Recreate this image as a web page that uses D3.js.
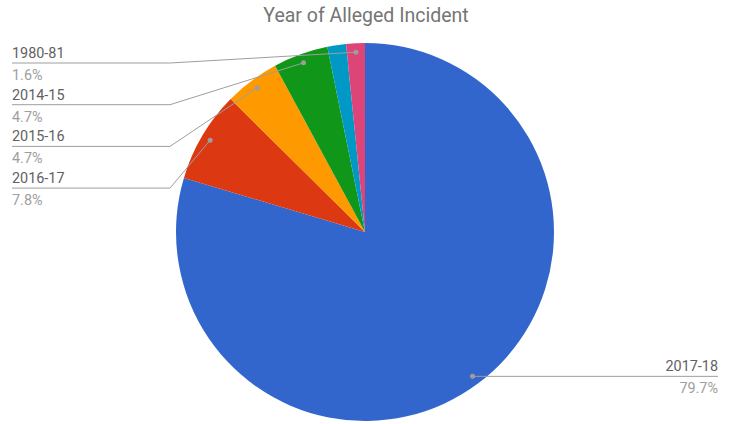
<!DOCTYPE html>
<html>
<head>
<meta charset="utf-8">
<script src="https://cdn.jsdelivr.net/npm/d3@7"></script>
<style>
body{margin:0;background:#fff;}
svg{font-family:Roboto,"Noto Sans",sans-serif;}
</style>
</head>
<body>
<script>
var years=['2017-18','2016-17','2015-16','2014-15','','1980-81'];
var shares=[79.7,7.8,4.7,4.7,1.6,1.6];
var colors=['#3366cc','#dc3912','#ff9900','#109618','#0099c6','#dd4477'];

var width=732,height=424;
var cx=365,cy=232,radius=189;

var svg=d3.select('body').append('svg')
  .attr('width',width)
  .attr('height',height);

svg.append('text')
  .attr('x',366)
  .attr('y',22)
  .attr('text-anchor','middle')
  .style('font-size','19.5px')
  .style('fill','#757575')
  .text('Year of Alleged Incident');

var data=years.map(function(y,i){return {name:y,value:shares[i],color:colors[i]};});

var pie=d3.pie().sort(null).value(function(d){return d.value;});
var arcs=pie(data);
var arc=d3.arc().innerRadius(0).outerRadius(radius);

var g=svg.append('g').attr('transform','translate('+cx+','+cy+')');
g.selectAll('path')
  .data(arcs)
  .enter()
  .append('path')
  .attr('d',arc)
  .style('fill',function(d){return d.data.color;});

// label anchor points, just inside the rim
function dot(d){
  var a=(d.startAngle+d.endAngle)/2;
  var r=radius-9;
  return [cx+r*Math.sin(a),cy-r*Math.cos(a)];
}

var labelled=arcs.filter(function(d){return d.data.name!='';});
var left=labelled.filter(function(d){return dot(d)[0]<cx;})
  .sort(function(a,b){return dot(a)[1]-dot(b)[1];});
var right=labelled.filter(function(d){return dot(d)[0]>=cx;});

var lines=svg.append('g');
left.forEach(function(d,i){
  var p=dot(d);
  var ly=63+i*41.7;
  lines.append('polyline')
    .attr('points','12,'+ly+' 170,'+ly+' '+p[0]+','+p[1])
    .style('fill','none')
    .style('stroke','#9e9e9e')
    .style('stroke-width',1);
  lines.append('circle').attr('cx',p[0]).attr('cy',p[1]).attr('r',2.5).style('fill','#9e9e9e');
  lines.append('text').attr('x',12).attr('y',ly-5)
    .style('font-size','14.4px').style('fill','#616161').text(d.data.name);
  lines.append('text').attr('x',12).attr('y',ly+17)
    .style('font-size','14.4px').style('fill','#9e9e9e').text(d.data.value+'%');
});
right.forEach(function(d){
  var p=dot(d);
  lines.append('polyline')
    .attr('points',p[0]+','+p[1]+' 718,'+p[1])
    .style('fill','none')
    .style('stroke','#9e9e9e')
    .style('stroke-width',1);
  lines.append('circle').attr('cx',p[0]).attr('cy',p[1]).attr('r',2.5).style('fill','#9e9e9e');
  lines.append('text').attr('x',718).attr('y',p[1]-5).attr('text-anchor','end')
    .style('font-size','14.4px').style('fill','#616161').text(d.data.name);
  lines.append('text').attr('x',718).attr('y',p[1]+17).attr('text-anchor','end')
    .style('font-size','14.4px').style('fill','#9e9e9e').text(d.data.value+'%');
});
</script>
</body>
</html>
